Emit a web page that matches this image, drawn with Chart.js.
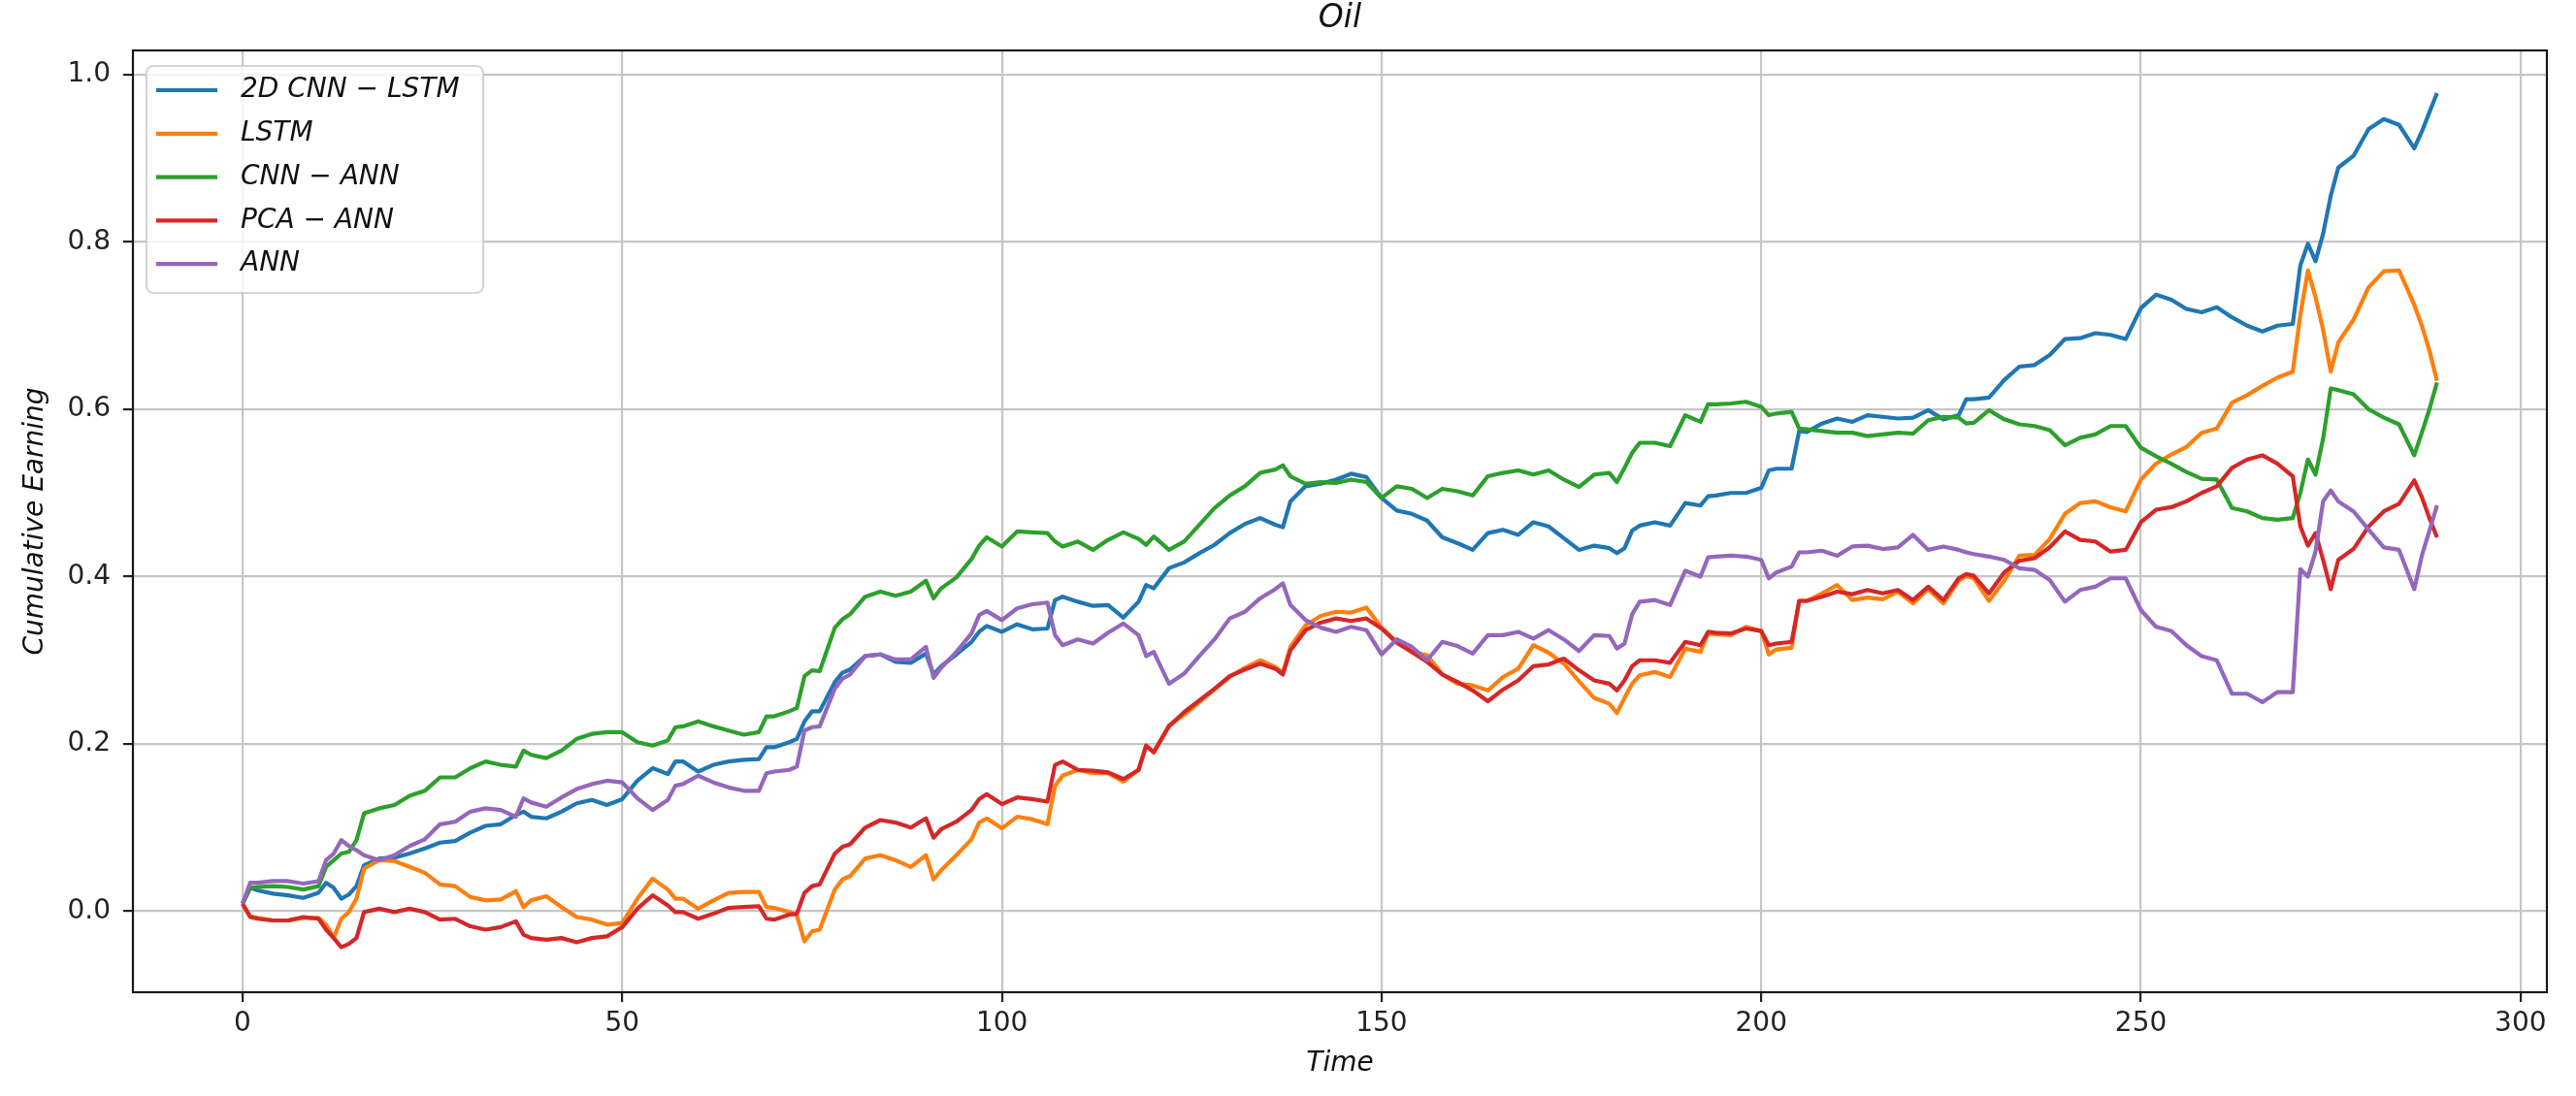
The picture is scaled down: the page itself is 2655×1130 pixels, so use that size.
<!DOCTYPE html>
<html>
<head>
<meta charset="utf-8">
<title>Oil</title>
<script src="https://cdn.jsdelivr.net/npm/chart.js@4.4.1/dist/chart.umd.min.js"></script>
<style>
  html, body { margin: 0; padding: 0; background: #fff; }
  canvas { display: block; }
</style>
</head>
<body>
<canvas id="chart" width="2655" height="1130"></canvas>
<script>
const timeSteps = [
  0, 1, 2, 4, 6, 8, 10, 11, 12, 13,
  14, 15, 16, 18, 20, 22, 24, 26, 28, 30,
  32, 34, 36, 37, 38, 40, 42, 44, 46, 48,
  50, 52, 54, 56, 57, 58, 60, 62, 64, 66,
  68, 69, 70, 72, 73, 74, 75, 76, 78, 79,
  80, 82, 84, 86, 88, 90, 91, 92, 94, 96,
  97, 98, 100, 102, 104, 106, 107, 108, 110, 112,
  114, 116, 118, 119, 120, 122, 124, 126, 128, 130,
  132, 134, 136, 137, 138, 140, 142, 144, 146, 148,
  150, 152, 154, 156, 158, 160, 162, 164, 166, 168,
  170, 172, 174, 176, 178, 180, 181, 182, 183, 184,
  186, 188, 190, 192, 193, 194, 196, 198, 200, 201,
  202, 204, 205, 206, 208, 210, 212, 214, 216, 218,
  220, 222, 224, 226, 227, 228, 230, 232, 234, 236,
  238, 240, 242, 244, 246, 248, 250, 252, 254, 256,
  258, 260, 262, 264, 266, 268, 270, 271, 272, 273,
  274, 275, 276, 278, 280, 282, 284, 286, 287, 288,
  289,
]

const cnnLstm = [
  0.009, 0.028, 0.025, 0.021, 0.019, 0.016, 0.022, 0.034, 0.028, 0.015,
  0.02, 0.03, 0.055, 0.063, 0.064, 0.069, 0.075, 0.082, 0.084, 0.094,
  0.102, 0.104, 0.115, 0.119, 0.113, 0.111, 0.119, 0.129, 0.133, 0.127,
  0.134, 0.156, 0.171, 0.164, 0.179, 0.179, 0.167, 0.175, 0.179, 0.181,
  0.182, 0.196, 0.196, 0.202, 0.206, 0.227, 0.239, 0.239, 0.274, 0.285,
  0.289, 0.305, 0.307, 0.298, 0.297, 0.308, 0.283, 0.293, 0.307, 0.322,
  0.334, 0.341, 0.334, 0.343, 0.337, 0.338, 0.372, 0.376, 0.37, 0.365,
  0.366, 0.351, 0.37, 0.39, 0.386, 0.41, 0.417, 0.428, 0.438, 0.452,
  0.463, 0.47, 0.462, 0.459, 0.49, 0.508, 0.511, 0.516, 0.523, 0.519,
  0.494, 0.479, 0.475, 0.467, 0.447, 0.44, 0.432, 0.452, 0.456, 0.45,
  0.465, 0.46, 0.446, 0.432, 0.437, 0.434, 0.428, 0.434, 0.455, 0.461,
  0.465, 0.461, 0.488, 0.485, 0.496, 0.497, 0.5, 0.5, 0.506, 0.527,
  0.529, 0.529, 0.574, 0.573, 0.583, 0.589, 0.585, 0.593, 0.591, 0.589,
  0.59, 0.599, 0.588, 0.593, 0.612, 0.612, 0.614, 0.635, 0.651, 0.653,
  0.665, 0.684, 0.685, 0.691, 0.689, 0.684, 0.721, 0.737, 0.731, 0.72,
  0.716, 0.722, 0.71, 0.7, 0.693, 0.7, 0.702, 0.772, 0.798, 0.777,
  0.81, 0.855, 0.889, 0.903, 0.935, 0.947, 0.94, 0.912, 0.932, 0.955,
  0.978,
]

const lstm = [
  0.009, -0.006, -0.008, -0.011, -0.011, -0.008, -0.008, -0.016, -0.032, -0.009,
  -0.001, 0.015, 0.051, 0.061, 0.06, 0.053, 0.046, 0.032, 0.03, 0.017,
  0.013, 0.014, 0.024, 0.005, 0.013, 0.018, 0.005, -0.007, -0.01, -0.016,
  -0.014, 0.015, 0.039, 0.026, 0.015, 0.015, 0.003, 0.013, 0.022, 0.023,
  0.023, 0.005, 0.004, -0.001, -0.005, -0.036, -0.024, -0.022, 0.026, 0.038,
  0.042, 0.063, 0.067, 0.061, 0.053, 0.067, 0.038, 0.049, 0.067, 0.086,
  0.106, 0.111, 0.099, 0.113, 0.11, 0.104, 0.15, 0.162, 0.169, 0.165,
  0.165, 0.155, 0.169, 0.198, 0.19, 0.222, 0.235, 0.25, 0.265, 0.28,
  0.291, 0.3, 0.292, 0.285, 0.316, 0.342, 0.353, 0.358, 0.357, 0.363,
  0.339, 0.322, 0.31, 0.306, 0.283, 0.272, 0.27, 0.264, 0.28, 0.29,
  0.318, 0.309, 0.296, 0.275, 0.255, 0.248, 0.237, 0.255, 0.272, 0.282,
  0.286, 0.28, 0.314, 0.31, 0.332, 0.331, 0.33, 0.34, 0.335, 0.307,
  0.313, 0.315, 0.371, 0.371, 0.38, 0.39, 0.372, 0.375, 0.373, 0.382,
  0.368, 0.385, 0.368, 0.395, 0.401, 0.398, 0.371, 0.395, 0.425, 0.426,
  0.445, 0.475, 0.488, 0.49, 0.483, 0.478, 0.516, 0.535, 0.546, 0.555,
  0.572, 0.577, 0.608, 0.617, 0.628, 0.638, 0.645, 0.713, 0.766, 0.734,
  0.695, 0.645, 0.68, 0.707, 0.746, 0.765, 0.766, 0.725, 0.7, 0.67,
  0.634,
]

const cnnAnn = [
  0.009, 0.028, 0.029, 0.03, 0.029, 0.026, 0.03, 0.053, 0.061, 0.069,
  0.071, 0.085, 0.117, 0.123, 0.127, 0.138, 0.144, 0.16, 0.16, 0.171,
  0.179, 0.175, 0.173, 0.192, 0.187, 0.183, 0.192, 0.206, 0.212, 0.214,
  0.214, 0.202, 0.198, 0.204, 0.22, 0.221, 0.227, 0.221, 0.216, 0.211,
  0.214, 0.233, 0.233, 0.239, 0.243, 0.281, 0.288, 0.287, 0.339, 0.349,
  0.355, 0.376, 0.382, 0.377, 0.382, 0.395, 0.374, 0.386, 0.399, 0.421,
  0.437, 0.447, 0.436, 0.454, 0.453, 0.452, 0.442, 0.436, 0.442, 0.432,
  0.444, 0.453, 0.445, 0.438, 0.448, 0.432, 0.442, 0.462, 0.482, 0.497,
  0.508, 0.524, 0.528, 0.533, 0.52, 0.511, 0.513, 0.512, 0.516, 0.513,
  0.494, 0.508, 0.505, 0.494, 0.505, 0.502, 0.497, 0.52, 0.524, 0.527,
  0.522, 0.527, 0.516, 0.507, 0.522, 0.524, 0.513, 0.53, 0.548, 0.56,
  0.56, 0.556, 0.593, 0.585, 0.606, 0.606, 0.607, 0.609, 0.603, 0.593,
  0.595, 0.597, 0.577, 0.576, 0.574, 0.572, 0.572, 0.568, 0.57, 0.572,
  0.571, 0.587, 0.591, 0.59, 0.583, 0.584, 0.599, 0.588, 0.582, 0.58,
  0.575, 0.557, 0.566, 0.57, 0.58, 0.58, 0.554, 0.544, 0.535, 0.525,
  0.517, 0.516, 0.482, 0.478, 0.47, 0.468, 0.47, 0.5, 0.54, 0.522,
  0.565, 0.625, 0.623, 0.618, 0.6, 0.59, 0.582, 0.545, 0.572, 0.6,
  0.632,
]

const pcaAnn = [
  0.009, -0.007, -0.009, -0.011, -0.011, -0.007, -0.009, -0.022, -0.032, -0.043,
  -0.039, -0.032, -0.001, 0.003, -0.001, 0.003, -0.001, -0.01, -0.009, -0.018,
  -0.022, -0.019, -0.012, -0.028, -0.032, -0.034, -0.032, -0.037, -0.032, -0.03,
  -0.019, 0.003, 0.019, 0.007, -0.001, -0.001, -0.009, -0.003, 0.004, 0.005,
  0.006, -0.009, -0.01, -0.004, -0.003, 0.022, 0.03, 0.032, 0.069, 0.077,
  0.08, 0.1, 0.109, 0.106, 0.1, 0.111, 0.088, 0.098, 0.107, 0.121,
  0.134, 0.14, 0.128, 0.136, 0.134, 0.131, 0.175, 0.179, 0.169, 0.168,
  0.166, 0.158, 0.169, 0.198, 0.19, 0.221, 0.238, 0.252, 0.266, 0.281,
  0.289, 0.296, 0.29, 0.283, 0.312, 0.336, 0.345, 0.35, 0.347, 0.35,
  0.338, 0.321, 0.31, 0.298, 0.283, 0.274, 0.264, 0.251, 0.265, 0.276,
  0.293, 0.295, 0.302, 0.288, 0.276, 0.272, 0.264, 0.276, 0.293, 0.3,
  0.3, 0.297, 0.322, 0.318, 0.334, 0.333, 0.332, 0.338, 0.335, 0.318,
  0.32, 0.322, 0.371, 0.371, 0.376, 0.382, 0.379, 0.384, 0.38, 0.384,
  0.372, 0.388, 0.372, 0.398, 0.403, 0.401, 0.38, 0.405, 0.419, 0.422,
  0.435, 0.454, 0.444, 0.442, 0.43, 0.432, 0.465, 0.48, 0.483, 0.49,
  0.5, 0.508, 0.53, 0.54, 0.545, 0.535, 0.52, 0.46, 0.437, 0.452,
  0.42, 0.385, 0.42, 0.433, 0.46, 0.478, 0.487, 0.515, 0.495, 0.47,
  0.447,
]

const ann = [
  0.009, 0.034, 0.034, 0.036, 0.036, 0.033, 0.036, 0.061, 0.069, 0.085,
  0.078, 0.073, 0.067, 0.061, 0.067, 0.078, 0.086, 0.104, 0.107, 0.119,
  0.123, 0.121, 0.113, 0.135, 0.13, 0.125, 0.136, 0.146, 0.152, 0.156,
  0.154, 0.135, 0.121, 0.133, 0.15, 0.152, 0.162, 0.154, 0.148, 0.144,
  0.144, 0.165, 0.167, 0.169, 0.173, 0.216, 0.22, 0.221, 0.266, 0.278,
  0.283, 0.305, 0.307, 0.301, 0.301, 0.316, 0.279, 0.291, 0.31, 0.332,
  0.354, 0.359, 0.348, 0.362, 0.367, 0.369, 0.33, 0.318, 0.325, 0.32,
  0.333, 0.344, 0.33, 0.305, 0.31, 0.272, 0.284, 0.305, 0.325, 0.35,
  0.358, 0.374, 0.385, 0.392, 0.366, 0.348, 0.339, 0.334, 0.34, 0.336,
  0.307, 0.325, 0.316, 0.3, 0.322, 0.317, 0.308, 0.33, 0.33, 0.334,
  0.326, 0.336, 0.325, 0.311, 0.33, 0.329, 0.314, 0.32, 0.355, 0.37,
  0.372, 0.366, 0.407, 0.4, 0.423, 0.424, 0.425, 0.424, 0.42, 0.398,
  0.405, 0.412, 0.429, 0.429, 0.431, 0.425, 0.436, 0.437, 0.433, 0.435,
  0.45, 0.432, 0.436, 0.432, 0.429, 0.427, 0.424, 0.42, 0.41, 0.408,
  0.396, 0.37, 0.384, 0.388, 0.398, 0.398, 0.36, 0.34, 0.335, 0.318,
  0.305, 0.3, 0.26, 0.26, 0.25, 0.262, 0.262, 0.409, 0.4, 0.43,
  0.49, 0.503, 0.49, 0.478, 0.456, 0.435, 0.432, 0.385, 0.425, 0.455,
  0.485,
]

const seriesLabels = ["2D CNN − LSTM", "LSTM", "CNN − ANN", "PCA − ANN", "ANN"]
const seriesColors = ["#1f77b4", "#ff7f0e", "#2ca02c", "#d62728", "#9467bd"]
const seriesValues = [cnnLstm, lstm, cnnAnn, pcaAnn, ann]

const xTickValues = [0, 50, 100, 150, 200, 250, 300]
const yTickValues = [0, 0.2, 0.4, 0.6, 0.8, 1.0]

const fontFamily = "'DejaVu Sans'"
const tickFont = { family: fontFamily, size: 28 }
const labelFont = { family: fontFamily, size: 28, style: "italic" }

// matplotlib style box around the plot
const framePlugin = {
  id: "frame",
  afterDatasetsDraw(chart) {
    const { ctx, chartArea: a } = chart
    ctx.save()
    ctx.strokeStyle = "#1a1a1a"
    ctx.lineWidth = 2.2
    ctx.strokeRect(a.left, a.top, a.right - a.left, a.bottom - a.top)
    ctx.restore()
  },
}

// legend drawn inside the plot, upper left, with a rounded frame
const boxLegendPlugin = {
  id: "boxLegend",
  afterDraw(chart) {
    const { ctx, chartArea: a } = chart
    const x0 = a.left + 14
    const y0 = a.top + 16
    const w = 347
    const h = 234
    ctx.save()
    ctx.beginPath()
    ctx.roundRect(x0, y0, w, h, 7)
    ctx.fillStyle = "rgba(255,255,255,0.8)"
    ctx.fill()
    ctx.strokeStyle = "rgba(204,204,204,0.8)"
    ctx.lineWidth = 2.2
    ctx.stroke()
    ctx.font = "italic 28px " + fontFamily
    ctx.textBaseline = "middle"
    ctx.textAlign = "left"
    chart.data.datasets.forEach((ds, i) => {
      const y = y0 + 25 + i * 44.8
      ctx.strokeStyle = ds.borderColor
      ctx.lineWidth = 4.2
      ctx.beginPath()
      ctx.moveTo(x0 + 10, y)
      ctx.lineTo(x0 + 73, y)
      ctx.stroke()
      ctx.fillStyle = "#111"
      ctx.fillText(ds.label, x0 + 97, y)
    })
    ctx.restore()
  },
}

const datasets = seriesLabels.map((label, i) => ({
  label,
  data: timeSteps.map((t, j) => ({ x: t, y: seriesValues[i][j] })),
  borderColor: seriesColors[i],
  backgroundColor: seriesColors[i],
  borderWidth: 4.2,
  borderJoinStyle: "round",
  pointRadius: 0,
  tension: 0,
  fill: false,
  order: seriesLabels.length - i,
}))

const config = {
  type: "line",
  data: { datasets },
  options: {
    responsive: false,
    animation: false,
    devicePixelRatio: 1,
    parsing: false,
    layout: { padding: { left: 0, right: 30, top: 0, bottom: 0 } },
    plugins: {
      legend: { display: false },
      tooltip: { enabled: false },
      title: {
        display: true,
        text: "Oil",
        fullSize: false,
        color: "#111",
        font: { family: fontFamily, size: 33, style: "italic", weight: "normal" },
        padding: { top: 0, bottom: 12.4 },
      },
    },
    scales: {
      x: {
        type: "linear",
        min: -14.44,
        max: 303.47,
        afterBuildTicks: (scale) => {
          scale.ticks = xTickValues.map((v) => ({ value: v }))
        },
        afterFit: (scale) => {
          scale.height = 107
          scale.paddingLeft = 0
          scale.paddingRight = 0
        },
        grid: {
          color: "#c6c6c6",
          lineWidth: 2.2,
          tickColor: "#222",
          tickWidth: 2.2,
          tickLength: 10,
        },
        border: { display: false },
        ticks: {
          font: tickFont,
          color: "#222",
          padding: 6,
          maxRotation: 0,
          autoSkip: false,
          callback: (v) => String(v),
        },
        title: {
          display: true,
          text: "Time",
          font: labelFont,
          color: "#111",
          padding: { top: 0, bottom: 16 },
        },
      },
      y: {
        type: "linear",
        min: -0.0968,
        max: 1.029,
        afterBuildTicks: (scale) => {
          scale.ticks = yTickValues.map((v) => ({ value: v }))
        },
        afterFit: (scale) => {
          scale.width = 137
          scale.paddingTop = 0
          scale.paddingBottom = 0
        },
        grid: {
          color: "#c6c6c6",
          lineWidth: 2.2,
          tickColor: "#222",
          tickWidth: 2.2,
          tickLength: 10,
        },
        border: { display: false },
        ticks: {
          font: tickFont,
          color: "#222",
          padding: 13,
          autoSkip: false,
          callback: (v) => v.toFixed(1),
        },
        title: {
          display: true,
          text: "Cumulative Earning",
          font: labelFont,
          color: "#111",
          padding: { top: 20, bottom: 0 },
        },
      },
    },
  },
  plugins: [framePlugin, boxLegendPlugin],
}

new Chart(document.getElementById("chart"), config)
</script>
</body>
</html>
